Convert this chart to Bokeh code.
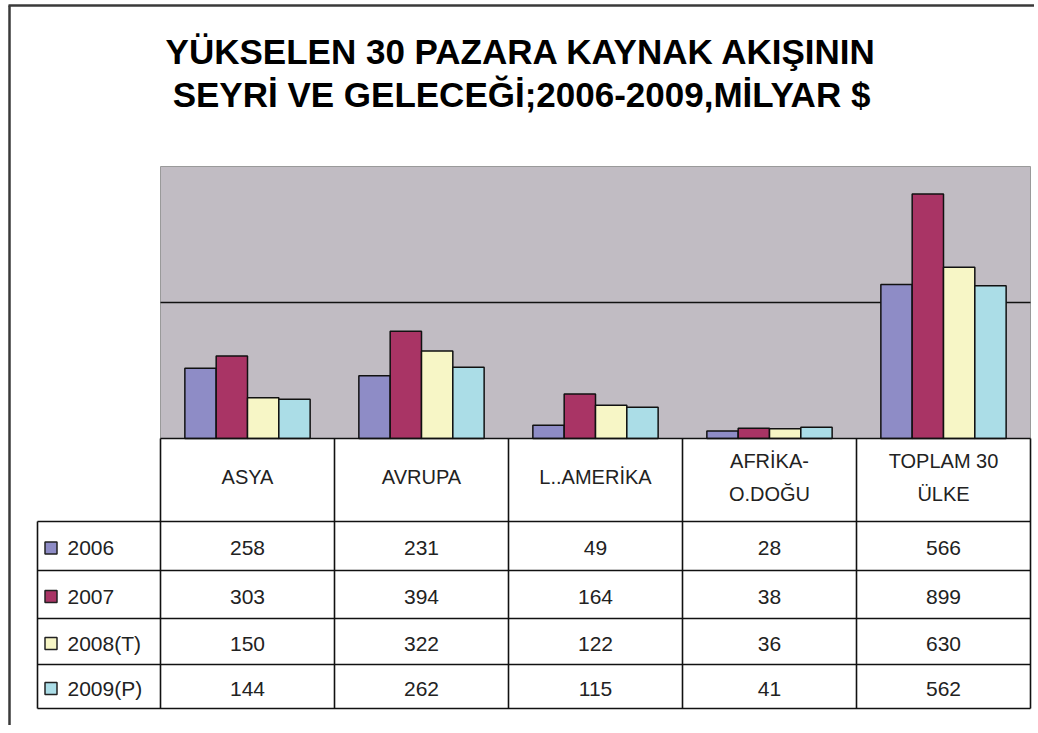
from bokeh.plotting import figure
from bokeh.models import Range1d
from bokeh.core.properties import value
from bokeh.embed import file_html
from bokeh.resources import INLINE

# ---------------- data ----------------
title_lines = ["YÜKSELEN 30 PAZARA KAYNAK AKIŞININ", "SEYRİ VE GELECEĞİ;2006-2009,MİLYAR $"]
categories = ["ASYA", "AVRUPA", "L..AMERİKA", "AFRİKA-\nO.DOĞU", "TOPLAM 30\nÜLKE"]
series = ["2006", "2007", "2008(T)", "2009(P)"]
v2006 = [258, 231, 49, 28, 566]
v2007 = [303, 394, 164, 38, 899]
v2008 = [150, 322, 122, 36, 630]
v2009 = [144, 262, 115, 41, 562]
y_max = 1000
y_grid = [500]

values = [v2006, v2007, v2008, v2009]
colors = ["#8E8CC6", "#A93465", "#F7F6C6", "#ABDDE7"]

# ---------------- layout (page pixels) ----------------
W, H = 1034, 725
PAGE_X0, PAGE_Y0 = 0, 0
PL, PR, PT, PB = 160, 1030, 166, 438           # plot area
TABLE_L = 37
ROWS = [521, 570, 618, 664, 708]               # horizontal row lines
N = len(categories)
COL_W = (PR - PL) / N
FONT = value("Liberation Sans")

ux = N / (PR - PL)          # category units per px
uy = y_max / (PB - PT)      # value units per px

p = figure(width=W, height=H, output_backend="svg", toolbar_location=None,
           x_axis_location=None, y_axis_location=None,
           x_range=Range1d((PAGE_X0 - PL) * ux, (PAGE_X0 + W - PL) * ux),
           y_range=Range1d(-(PAGE_Y0 + H - PB) * uy, (PB - PAGE_Y0) * uy),
           min_border=0, tools="")
p.extra_x_ranges = {"px": Range1d(PAGE_X0, PAGE_X0 + W)}
p.extra_y_ranges = {"px": Range1d(PAGE_Y0 + H, PAGE_Y0)}
p.grid.visible = False
p.outline_line_color = None
p.background_fill_color = "white"
p.border_fill_color = "white"

PX = dict(x_range_name="px", y_range_name="px")

# outer chart border (left + top)
p.segment(x0=[9, 8], y0=[5, 5], x1=[9, PAGE_X0 + W], y1=[PAGE_Y0 + H, 5],
          line_color="#3a3a3a", line_width=2.5, **PX)

# plot area
p.quad(left=[0], right=[N], bottom=[0], top=[y_max],
       fill_color="#C1BCC3", line_color="#9a9a9a", line_width=1)
p.segment(x0=[0] * len(y_grid), x1=[N] * len(y_grid), y0=y_grid, y1=y_grid,
          line_color="#111111", line_width=1.6)

# bars
bw = 0.18
for k, (vals, col) in enumerate(zip(values, colors)):
    xs = [i + 0.5 + (k - 1.5) * bw for i in range(N)]
    p.vbar(x=xs, top=vals, bottom=0, width=bw, fill_color=col,
           line_color="#111111", line_width=1.5)

# table lines
lc, lw = "#111111", 1.6
hx0, hx1, hy = [PL], [PR], [PB]
for y in ROWS:
    hx0.append(TABLE_L); hx1.append(PR); hy.append(y)
p.segment(x0=hx0, x1=hx1, y0=hy, y1=hy, line_color=lc, line_width=lw, **PX)
vx = [PL + i * COL_W for i in range(N + 1)]
p.segment(x0=vx, x1=vx, y0=[PB] * len(vx), y1=[ROWS[-1]] * len(vx),
          line_color=lc, line_width=lw, **PX)
p.segment(x0=[TABLE_L], x1=[TABLE_L], y0=[ROWS[0]], y1=[ROWS[-1]],
          line_color=lc, line_width=lw, **PX)

# title
p.text(x=[521, 521], y=[51, 94], text=title_lines, text_font=FONT,
       text_font_size="35px", text_font_style="bold", text_color="black",
       text_align="center", text_baseline="middle", **PX)

# category header
hcx, hcy, htx = [], [], []
hmid = (PB + ROWS[0]) / 2 - 3
for i, c in enumerate(categories):
    lines = c.split("\n")
    step = 33
    start = hmid - step * (len(lines) - 1) / 2
    for j, ln in enumerate(lines):
        hcx.append(PL + (i + 0.5) * COL_W)
        hcy.append(start + j * step)
        htx.append(ln)
p.text(x=hcx, y=hcy, text=htx, text_font=FONT, text_font_size="20px",
       text_color="#222222", text_align="center", text_baseline="middle", **PX)

# values + legend column
nx, ny, nt = [], [], []
lx, ly, lt = [], [], []
for k, (name, vals) in enumerate(zip(series, values)):
    cy = (ROWS[k] + ROWS[k + 1]) / 2 + 2
    lx.append(67); ly.append(cy); lt.append(name)
    for i, v in enumerate(vals):
        nx.append(PL + (i + 0.5) * COL_W); ny.append(cy); nt.append(str(v))
p.text(x=nx, y=ny, text=nt, text_font=FONT, text_font_size="21px",
       text_color="#222222", text_align="center", text_baseline="middle", **PX)
p.text(x=lx, y=ly, text=lt, text_font=FONT, text_font_size="21px",
       text_color="#222222", text_align="left", text_baseline="middle", **PX)
p.scatter(x=[50.5] * 4, y=ly, marker="square", size=12, fill_color=colors,
          line_color="#222222", line_width=1.5, **PX)

open("out.html", "w").write(file_html(p, INLINE))
